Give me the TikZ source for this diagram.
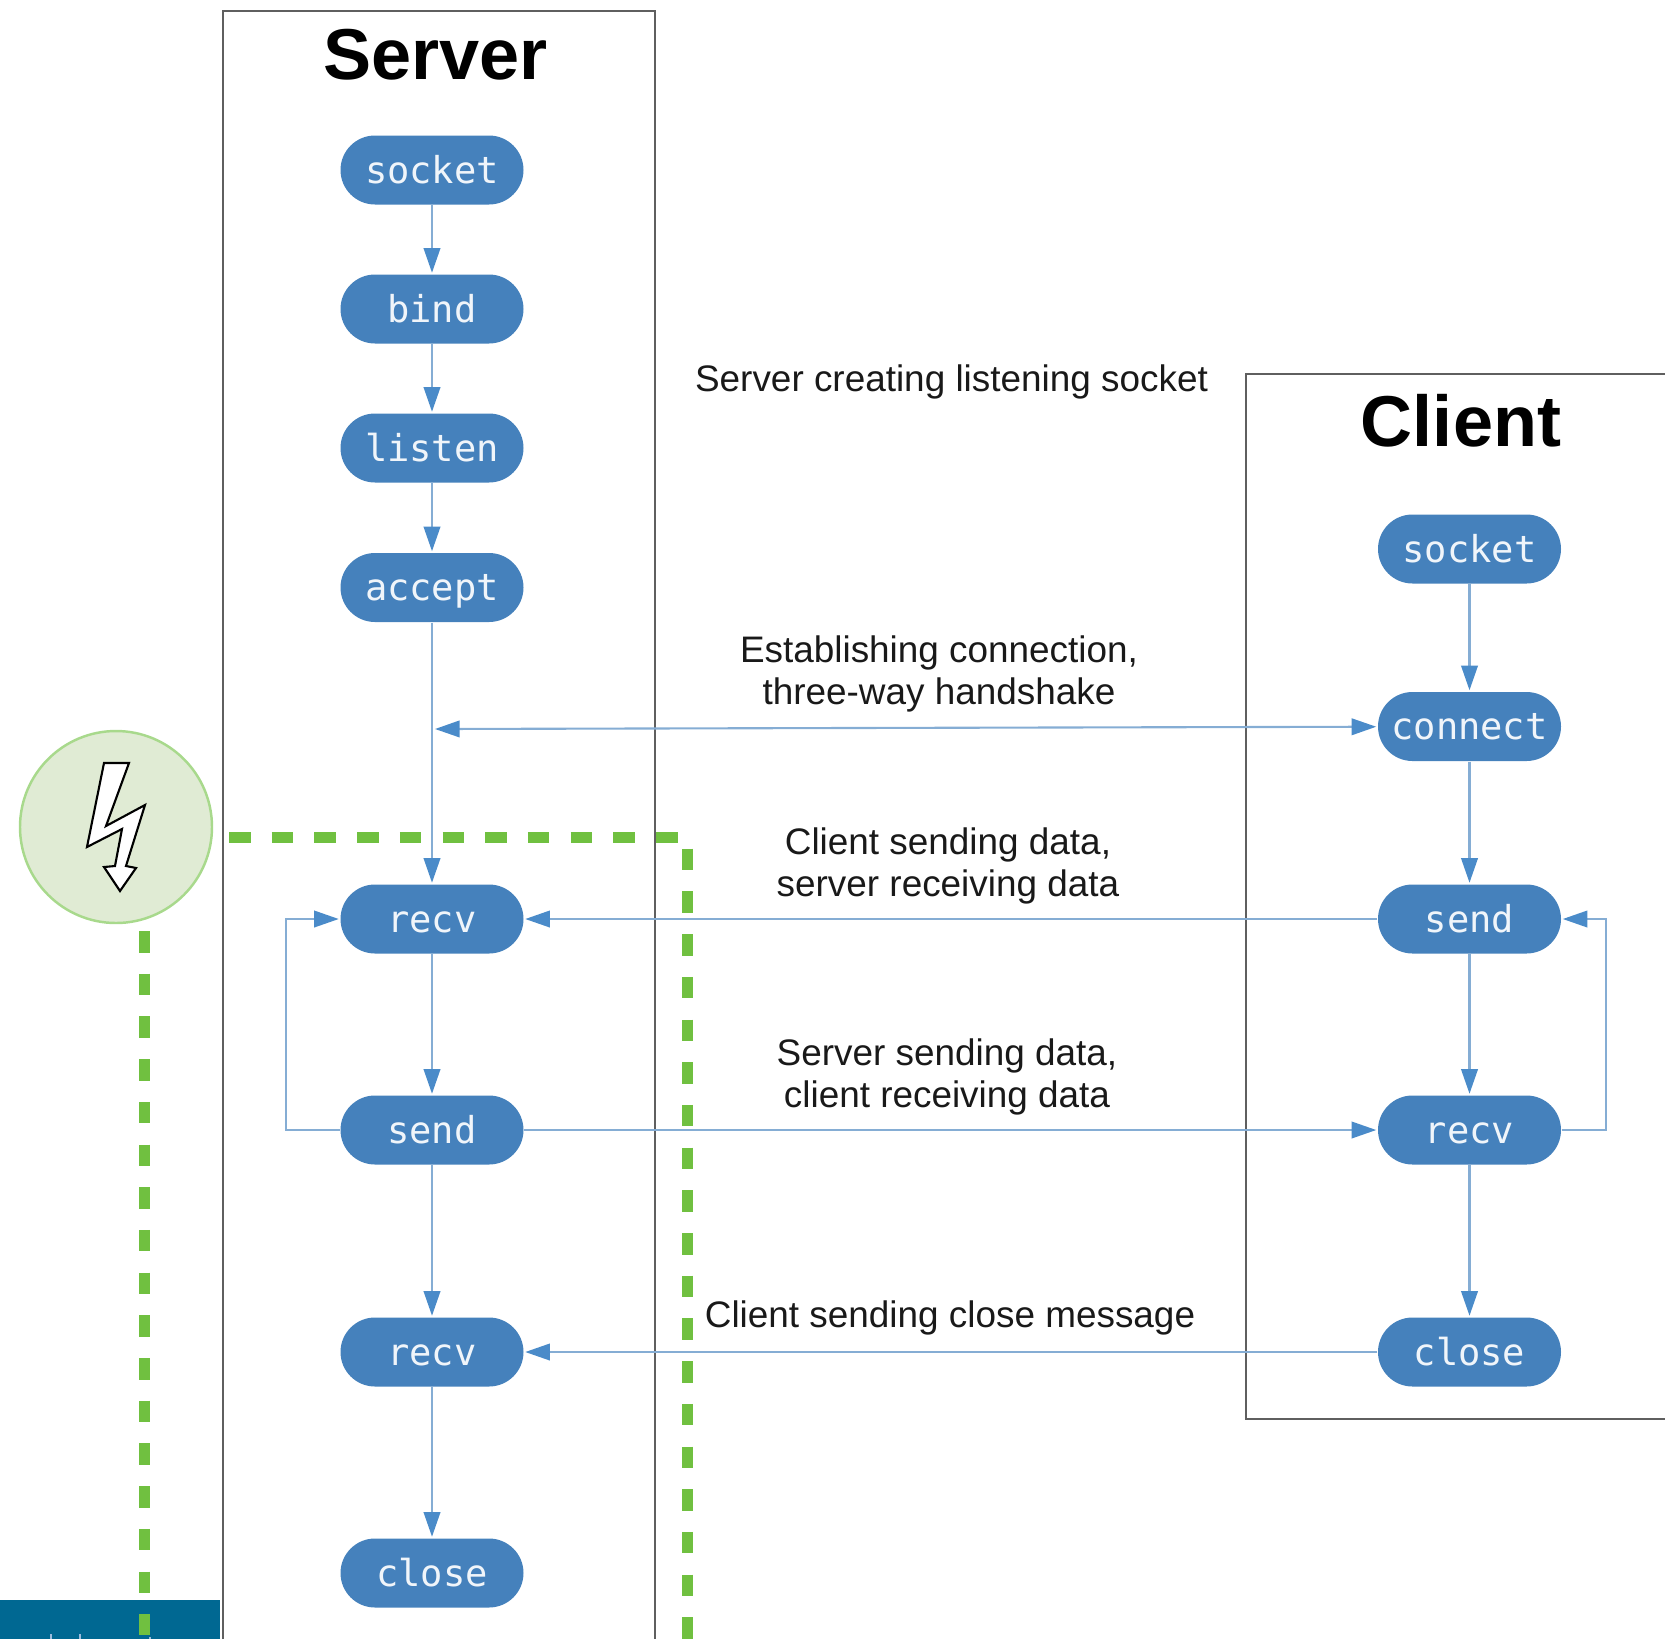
\documentclass[tikz,border=0pt]{standalone}
\usepackage{fontspec}
\setmainfont{Liberation Sans}
\setmonofont{DejaVu Sans Mono}
\usetikzlibrary{arrows.meta}
\definecolor{pillblue}{HTML}{4581BC}
\definecolor{linkblue}{HTML}{85ADD4}
\definecolor{tipblue}{HTML}{4A8BC9}
\definecolor{boxgray}{HTML}{5F5F5F}
\definecolor{faultgreen}{HTML}{70C040}
\definecolor{crashline}{HTML}{A8D98C}
\definecolor{crashfill}{HTML}{E0EBD4}
\definecolor{bandblue}{HTML}{006892}
\definecolor{bandtext}{HTML}{9DBCDD}
\tikzset{
	call/.style={fill=pillblue,text=white!92!pillblue,rounded corners=0.345cm,minimum width=1.83cm,minimum height=0.69cm,inner sep=0pt,text height=7.4pt,text depth=0pt,font=\ttfamily\fontsize{10.55}{12}\selectfont},
	link/.style={draw=linkblue,line width=0.6pt,-{Triangle[length=7pt,width=4.7pt,color=tipblue]},shorten >=0.3pt},
	both/.style={draw=linkblue,line width=0.6pt,{Triangle[length=7pt,width=4.7pt,color=tipblue]}-{Triangle[length=7pt,width=4.7pt,color=tipblue]},shorten >=0.3pt},
	frame/.style={draw=boxgray,line width=0.65pt},
	title/.style={font=\bfseries\fontsize{20.5}{24}\selectfont},
	note/.style={align=center,text=black!90,font=\fontsize{10.5}{12}\selectfont},
	fault/.style={draw=faultgreen,line width=0.11cm,dash pattern=on 0.215cm off 0.212cm}
}
\begin{document}
\begin{tikzpicture}
	\useasboundingbox (0,0) rectangle (16.65,-16.39);
	\fill[bandblue] (0,-16.00) rectangle (2.20,-16.39);
	\draw[bandtext,line width=0.6pt] (0.51,-16.34) -- (0.51,-16.39);
	\draw[bandtext,line width=0.6pt] (0.80,-16.34) -- (0.80,-16.39);
	\draw[bandtext,line width=0.6pt] (1.50,-16.37) -- (1.50,-16.39);
	\draw[frame] (2.23,-16.39) -- (2.23,-0.11) -- (6.55,-0.11) -- (6.55,-16.39);
	\draw[frame] (16.65,-3.74) -- (12.46,-3.74) -- (12.46,-14.19) -- (16.65,-14.19);
	\node[title] (servertitle) at (4.355,-0.55) {Server};
	\node[title] (clienttitle) at (14.61,-4.21) {Client};
	% server column
	\node[call] (ssocket) at (4.32,-1.70) {socket};
	\node[call] (sbind) at (4.32,-3.09) {bind};
	\node[call] (slisten) at (4.32,-4.48) {listen};
	\node[call] (saccept) at (4.32,-5.875) {accept};
	\node[call] (srecv) at (4.32,-9.19) {recv};
	\node[call] (ssend) at (4.32,-11.30) {send};
	\node[call] (sfin) at (4.32,-13.52) {recv};
	\node[call] (sclose) at (4.32,-15.73) {close};
	% client column
	\node[call] (csocket) at (14.695,-5.49) {socket};
	\node[call] (cconnect) at (14.695,-7.265) {connect};
	\node[call] (csend) at (14.695,-9.19) {send};
	\node[call] (crecv) at (14.695,-11.30) {recv};
	\node[call] (cclose) at (14.695,-13.52) {close};
	\draw[link] (ssocket) -- (sbind);
	\draw[link] (sbind) -- (slisten);
	\draw[link] (slisten) -- (saccept);
	\draw[link] (saccept) -- (srecv);
	\draw[link] (srecv) -- (ssend);
	\draw[link] (ssend) -- (sfin);
	\draw[link] (sfin) -- (sclose);
	\draw[link] (csocket) -- (cconnect);
	\draw[link] (cconnect) -- (csend);
	\draw[link] (csend) -- (crecv);
	\draw[link] (crecv) -- (cclose);
	\coordinate (shake) at (4.35,-7.29);
	\draw[both] (shake) -- (cconnect);
	\draw[link] (csend) -- (srecv);
	\draw[link] (ssend) -- (crecv);
	\draw[link] (cclose) -- (sfin);
	\coordinate (sloop) at (2.86,-11.30);
	\coordinate (cloop) at (16.06,-11.30);
	\draw[link] (ssend.west) -- (sloop) |- (srecv.west);
	\draw[link] (crecv.east) -- (cloop) |- (csend.east);
	\node[note] (listening) at (9.515,-3.82) {Server creating listening socket};
	\node[note] (handshake) at (9.39,-6.74) {Establishing connection,\\three-way handshake};
	\node[note] (sending) at (9.48,-8.66) {Client sending data,\\server receiving data};
	\node[note] (replying) at (9.47,-10.77) {Server sending data,\\client receiving data};
	\node[note] (closing) at (9.50,-13.18) {Client sending close message};
	% fault marker
	\node[circle,draw=crashline,line width=0.7pt,fill=crashfill,minimum size=1.92cm,inner sep=0pt] (crash) at (1.16,-8.27) {};
	\draw[black,fill=white,line width=0.6pt,line join=miter] (1.04,-7.63) -- (1.29,-7.63) -- (1.06,-8.26) -- (1.45,-8.05) -- (1.26,-8.66) -- (1.36,-8.68) -- (1.20,-8.91) -- (1.04,-8.67) -- (1.15,-8.66) -- (1.22,-8.29) -- (0.87,-8.47) -- cycle;
	\draw[fault] (2.29,-8.37) -- (6.87,-8.37) -- (6.87,-16.39);
	\draw[fault] (1.44,-9.31) -- (1.44,-16.35);
\end{tikzpicture}
\end{document}
